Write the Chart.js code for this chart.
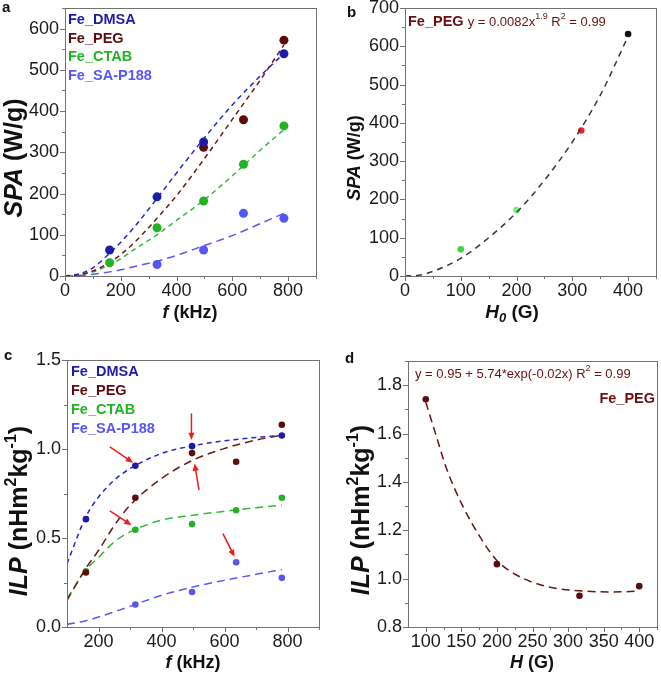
<!DOCTYPE html>
<html>
<head>
<meta charset="utf-8">
<script src="https://cdn.jsdelivr.net/npm/chart.js@4.4.1/dist/chart.umd.min.js"></script>
<style>
  body { margin: 0; background: #fff; }
  #wrap { position: relative; width: 661px; height: 676px; overflow: hidden; }
  canvas { position: absolute; }
</style>
</head>
<body>
<div id="wrap">
  <canvas id="ca" width="330" height="330" style="left:0;top:0"></canvas>
  <canvas id="cb" width="331" height="330" style="left:330px;top:0"></canvas>
  <canvas id="cc" width="330" height="346" style="left:0;top:330px"></canvas>
  <canvas id="cd" width="331" height="346" style="left:330px;top:330px"></canvas>
</div>
<script>
"use strict"

/*====================================================================
Data
====================================================================*/
// panel a: SPA against frequency
const freqA = [160, 330, 497, 640, 785]
const spaDMSA = [63, 192, 325, null, 539]
const spaPEG = [null, null, 312, 379, 572]
const spaCTAB = [32, 117, 182, 271, 364]
const spaSA = [null, 28, 63, 152, 140]
// dashed fits of panel a
const fitFreqA = [0, 50, 100, 160, 200, 250, 330, 400, 500, 600, 700, 785]
const fitDMSA_A = [0, 5, 20, 55, 82, 120, 188, 250, 335, 415, 485, 540]
const fitPEG_A = [0, 3, 12, 33, 52, 82, 140, 195, 285, 380, 475, 560]
const fitCTAB_A = [0, 3, 10, 27, 42, 65, 100, 135, 185, 243, 305, 355]
const fitSA_A = [0, 1, 4, 10, 15, 23, 36, 50, 74, 98, 127, 152]
const xTicksA = [0, 200, 400, 600, 800]
const yTicksA = [0, 100, 200, 300, 400, 500, 600]

// panel b: SPA against field (Fe_PEG)
const fieldB = [100, 200, 316, 400]
const spaB = [70, 172, 380, 632]
const colorsB = ["#3fd43f", "#7cec7c", "#f0202e", "#111111"]
const fitFieldB = [0, 25, 50, 100, 150, 200, 250, 300, 350, 400]
const fitSpaB = [0, 2, 12, 46, 100, 166, 250, 350, 472, 626]
const xTicksB = [0, 100, 200, 300, 400]
const yTicksB = [0, 100, 200, 300, 400, 500, 600, 700]

// panel c: ILP against frequency
const freqC = [160, 317, 497, 637, 782]
const ilpDMSA = [0.606, 0.906, 1.016, null, 1.076]
const ilpPEG = [0.306, 0.726, 0.977, 0.928, 1.136]
const ilpCTAB = [0.313, 0.546, 0.578, 0.656, 0.726]
const ilpSA = [null, 0.126, 0.197, 0.364, 0.276]
const fitFreqC = [100, 160, 200, 250, 300, 400, 500, 600, 700, 782]
const fitDMSA_C = [0.356, 0.62, 0.73, 0.825, 0.89, 0.975, 1.018, 1.046, 1.065, 1.076]
const fitPEG_C = [0.15, 0.33, 0.43, 0.57, 0.684, 0.834, 0.9375, 1.003, 1.05, 1.078]
const fitCTAB_C = [0.16, 0.32, 0.39, 0.478, 0.534, 0.60, 0.628, 0.65, 0.67, 0.684]
const fitSA_C = [0.015, 0.035, 0.056, 0.085, 0.116, 0.178, 0.225, 0.262, 0.296, 0.3225]
// red arrows of panel c: [x tail, y tail, x head, y head] in data units
const arrowsC = [[236, 1.0125, 310, 0.9225], [495, 1.2, 495, 1.05], [519, 0.769, 505, 0.919],
                 [236, 0.6525, 305, 0.572], [595, 0.525, 632, 0.394]]
const xTicksC = [200, 400, 600, 800]
const yTicksC = [0, 0.5, 1.0, 1.5]

// panel d: ILP against field (Fe_PEG)
const fieldD = [100, 200, 316, 400]
const ilpD = [1.742, 1.06, 0.929, 0.969]
const fitFieldD = [100, 115, 129, 152, 176, 199, 227, 269, 315, 362, 400]
const fitIlpD = [1.73, 1.587, 1.456, 1.30, 1.174, 1.078, 1.016, 0.968, 0.95, 0.945, 0.948]
const xTicksD = [100, 150, 200, 250, 300, 350, 400]
const yTicksD = [0.8, 1.0, 1.2, 1.4, 1.6, 1.8]

const series = ["Fe_DMSA", "Fe_PEG", "Fe_CTAB", "Fe_SA-P188"]
const dotColors = ["#1c1caa", "#5c0c0c", "#22b322", "#5656f4"]
const lineColors = ["#2626cc", "#6e1818", "#33bb33", "#5a5af0"]

/*====================================================================
Functions
====================================================================*/
const FAM = '"Liberation Sans", Arial, sans-serif'
function font(size, style) { return (style || "") + " " + size + "px " + FAM }

function pairs(xs, ys) {
    let out = []
    for (let i = 0; i < xs.length; i++) if (ys[i] !== null) out.push({x: xs[i], y: ys[i]})
    return out
}

// draw a line of text made of parts with their own font, centred (or left/right aligned)
function drawRich(ctx, parts, x, y, rotate, align) {
    ctx.save()
    ctx.translate(x, y)
    if (rotate) ctx.rotate(-Math.PI / 2)
    let w = 0
    parts.forEach(p => { ctx.font = p.f; p.w = ctx.measureText(p.t).width; w += p.w })
    let cx = align === "left" ? 0 : align === "right" ? -w : -w / 2
    ctx.textBaseline = "middle"
    ctx.textAlign = "left"
    parts.forEach(p => {
        ctx.font = p.f
        ctx.fillStyle = p.c || "#111"
        ctx.fillText(p.t, cx, p.dy || 0)
        cx += p.w
    })
    ctx.restore()
}

// frame, tick marks, titles and inline texts
const framePlugin = {
    id: "frame",
    afterDraw(chart, args, o) {
        const ctx = chart.ctx, a = chart.chartArea
        const sx = chart.scales.x, sy = chart.scales.y
        ctx.save()
        ctx.strokeStyle = "#727272"
        ctx.lineWidth = 1
        ctx.beginPath()
        const tick = (x0, y0, x1, y1) => { ctx.moveTo(x0, y0); ctx.lineTo(x1, y1) }
        o.xMajor.forEach(v => { const p = Math.round(sx.getPixelForValue(v)) + 0.5; tick(p, a.bottom, p, a.bottom + 5) })
        o.xMinor.forEach(v => { const p = Math.round(sx.getPixelForValue(v)) + 0.5; tick(p, a.bottom, p, a.bottom + 3) })
        o.yMajor.forEach(v => { const p = Math.round(sy.getPixelForValue(v)) + 0.5; tick(a.left, p, a.left - 5, p) })
        o.yMinor.forEach(v => { const p = Math.round(sy.getPixelForValue(v)) + 0.5; tick(a.left, p, a.left - 3, p) })
        ctx.stroke()
        ctx.strokeRect(Math.round(a.left) + 0.5, Math.round(a.top) + 0.5,
                       Math.round(a.right - a.left), Math.round(a.bottom - a.top))
        ctx.restore()
        drawRich(ctx, o.yTitle, o.yTitlePos[0], o.yTitlePos[1], true)
        drawRich(ctx, o.xTitle, o.xTitlePos[0], o.xTitlePos[1], false)
        ;(o.texts || []).forEach(t => drawRich(ctx, t.parts, t.x, t.y, false, t.align || "left"))
        ctx.save()
        ctx.font = font(15, "bold")
        ctx.fillStyle = "#111"
        ctx.fillText(o.letter[0], o.letter[1], o.letter[2])
        ctx.restore()
        if (o.arrows) {
            ctx.save()
            ctx.strokeStyle = "#ee1c1c"
            ctx.fillStyle = "#ee1c1c"
            ctx.lineWidth = 1.5
            o.arrows.forEach(r => {
                const x0 = sx.getPixelForValue(r[0]), y0 = sy.getPixelForValue(r[1])
                const x1 = sx.getPixelForValue(r[2]), y1 = sy.getPixelForValue(r[3])
                const ang = Math.atan2(y1 - y0, x1 - x0)
                ctx.beginPath(); ctx.moveTo(x0, y0)
                ctx.lineTo(x1 - 5 * Math.cos(ang), y1 - 5 * Math.sin(ang)); ctx.stroke()
                ctx.beginPath(); ctx.moveTo(x1, y1)
                ctx.lineTo(x1 - 8 * Math.cos(ang - 0.4), y1 - 8 * Math.sin(ang - 0.4))
                ctx.lineTo(x1 - 8 * Math.cos(ang + 0.4), y1 - 8 * Math.sin(ang + 0.4))
                ctx.closePath(); ctx.fill()
            })
            ctx.restore()
        }
    }
}

function dots(data, color, r) {
    return {data: data, showLine: false, pointRadius: r, pointBorderWidth: 0,
            pointBackgroundColor: color, borderColor: color}
}
function fit(data, color, dash) {
    return {data: data, showLine: true, pointRadius: 0, borderWidth: 1.5, borderColor: color,
            borderDash: dash || [5, 4], cubicInterpolationMode: "monotone", fill: false}
}

function axis(min, max, ticks, digits, fitFn) {
    return {
        type: "linear", min: min, max: max,
        afterBuildTicks: s => { s.ticks = ticks.map(v => ({value: v})) },
        afterFit: fitFn,
        grid: {display: true, drawOnChartArea: false, drawTicks: true, tickLength: 5, color: "rgba(0,0,0,0)"},
        border: {display: false},
        ticks: {font: {family: FAM, size: 18, lineHeight: 1}, color: "#1a1a1a", padding: 1,
                maxRotation: 0, autoSkip: false, callback: v => v.toFixed(digits)}
    }
}

function makeChart(id, datasets, sc, area, frame) {
    const el = document.getElementById(id)
    const W = el.width, H = el.height
    return new Chart(el, {
        type: "scatter",
        data: {datasets: datasets},
        options: {
            responsive: false, animation: false, devicePixelRatio: 1,
            layout: {padding: {left: 0, top: area.top, right: W - area.right, bottom: 0}},
            plugins: {legend: {display: false}, tooltip: {enabled: false}, frame: frame},
            scales: {
                x: axis(sc.x[0], sc.x[1], sc.x[2], sc.x[3], s => { s.height = H - area.bottom; s.paddingLeft = 0; s.paddingRight = 0 }),
                y: axis(sc.y[0], sc.y[1], sc.y[2], sc.y[3], s => { s.width = area.left; s.paddingTop = 0; s.paddingBottom = 0 })
            }
        },
        plugins: [framePlugin]
    })
}

function legendTexts(x, y0, dy) {
    return series.map((s, i) => ({parts: [{t: s, f: font(14.5, "bold"), c: dotColors[i]}], x: x, y: y0 + i * dy}))
}

function titleSPA(size) {
    return [{t: "SPA", f: font(size, "italic bold")}, {t: " (W/g)", f: font(size, "bold")}]
}
const titleILP = [{t: "ILP", f: font(25, "italic bold")}, {t: " (nHm", f: font(25, "bold")},
                  {t: "2", f: font(16, "bold"), dy: -8}, {t: "kg", f: font(25, "bold")},
                  {t: "-1", f: font(16, "bold"), dy: -8}, {t: ")", f: font(25, "bold")}]
const titleF = [{t: "f", f: font(18, "italic bold")}, {t: " (kHz)", f: font(18, "bold")}]
const maroon = "#6a1010"

/*====================================================================
Charts
====================================================================*/
makeChart("ca", [
    dots(pairs(freqA, spaDMSA), dotColors[0], 4.5),
    dots(pairs(freqA, spaPEG), dotColors[1], 4.5),
    dots(pairs(freqA, spaCTAB), dotColors[2], 4.5),
    dots(pairs(freqA, spaSA), dotColors[3], 4.5),
    fit(pairs(fitFreqA, fitDMSA_A), lineColors[0]),
    fit(pairs(fitFreqA, fitPEG_A), lineColors[1]),
    fit(pairs(fitFreqA, fitCTAB_A), lineColors[2]),
    fit(pairs(fitFreqA, fitSA_A), lineColors[3], [8, 5])
], {x: [0, 900, xTicksA, 0], y: [0, 650, yTicksA, 0]}, {left: 65, top: 8, right: 316, bottom: 276}, {
    xMajor: xTicksA, xMinor: [100, 300, 500, 700, 900],
    yMajor: yTicksA, yMinor: [50, 150, 250, 350, 450, 550, 650],
    yTitle: titleSPA(25), yTitlePos: [15, 158], xTitle: titleF, xTitlePos: [190, 313],
    texts: legendTexts(68, 20, 18.6), letter: ["a", 2, 12]
})

makeChart("cb", [
    fit(pairs(fitFieldB, fitSpaB), "#2c3a4a", [6, 5]),
    {data: pairs(fieldB, spaB), showLine: false, pointRadius: 3.3, pointBorderWidth: 0,
     pointBackgroundColor: colorsB}
], {x: [0, 450, xTicksB, 0], y: [0, 700, yTicksB, 0]}, {left: 75, top: 8, right: 326, bottom: 276}, {
    xMajor: xTicksB, xMinor: [50, 150, 250, 350, 450],
    yMajor: yTicksB, yMinor: [50, 150, 250, 350, 450, 550, 650],
    yTitle: titleSPA(18), yTitlePos: [25, 158],
    xTitle: [{t: "H", f: font(19, "italic bold")}, {t: "0", f: font(13, "italic bold"), dy: 5}, {t: " (G)", f: font(19, "bold")}],
    xTitlePos: [182, 313],
    texts: [{parts: [{t: "Fe_PEG ", f: font(14.5, "bold"), c: maroon}, {t: "y = 0.0082x", f: font(13), c: maroon},
                     {t: "1.9", f: font(9), c: maroon, dy: -5}, {t: " R", f: font(13), c: maroon},
                     {t: "2", f: font(9), c: maroon, dy: -5}, {t: " = 0.99", f: font(13), c: maroon}],
             x: 78, y: 22}],
    letter: ["b", 17, 17]
})

makeChart("cc", [
    dots(pairs(freqC, ilpDMSA), dotColors[0], 3.3),
    dots(pairs(freqC, ilpPEG), dotColors[1], 3.3),
    dots(pairs(freqC, ilpCTAB), dotColors[2], 3.3),
    dots(pairs(freqC, ilpSA), dotColors[3], 3.3),
    fit(pairs(fitFreqC, fitDMSA_C), lineColors[0]),
    fit(pairs(fitFreqC, fitPEG_C), lineColors[1], [8, 5]),
    fit(pairs(fitFreqC, fitCTAB_C), lineColors[2], [8, 5]),
    fit(pairs(fitFreqC, fitSA_C), lineColors[3], [8, 5])
], {x: [100, 900, xTicksC, 0], y: [0, 1.5, yTicksC, 1]}, {left: 67, top: 30, right: 319, bottom: 297}, {
    xMajor: xTicksC, xMinor: [300, 500, 700, 900],
    yMajor: yTicksC, yMinor: [0.25, 0.75, 1.25],
    yTitle: titleILP, yTitlePos: [20, 181], xTitle: titleF, xTitlePos: [193, 333],
    texts: legendTexts(71, 42, 19), letter: ["c", 4, 30], arrows: arrowsC
})

makeChart("cd", [
    fit(pairs(fitFieldD, fitIlpD), "#6a1414", [8, 5]),
    dots(pairs(fieldD, ilpD), "#5c0c0c", 3.3)
], {x: [75, 425, xTicksD, 0], y: [0.8, 1.9, yTicksD, 1]}, {left: 78, top: 31, right: 329, bottom: 297}, {
    xMajor: xTicksD, xMinor: [125, 175, 225, 275, 325, 375, 425],
    yMajor: yTicksD, yMinor: [0.9, 1.1, 1.3, 1.5, 1.7, 1.9],
    yTitle: titleILP, yTitlePos: [32, 180],
    xTitle: [{t: "H", f: font(18, "italic bold")}, {t: " (G)", f: font(18, "bold")}], xTitlePos: [202, 333],
    texts: [{parts: [{t: "y = 0.95 + 5.74*exp(-0.02x) R", f: font(13), c: maroon},
                     {t: "2", f: font(9), c: maroon, dy: -5}, {t: " = 0.99", f: font(13), c: maroon}],
             x: 85, y: 44},
            {parts: [{t: "Fe_PEG", f: font(14.5, "bold"), c: maroon}], x: 325, y: 69, align: "right"}],
    letter: ["d", 15, 33]
})
</script>
</body>
</html>
